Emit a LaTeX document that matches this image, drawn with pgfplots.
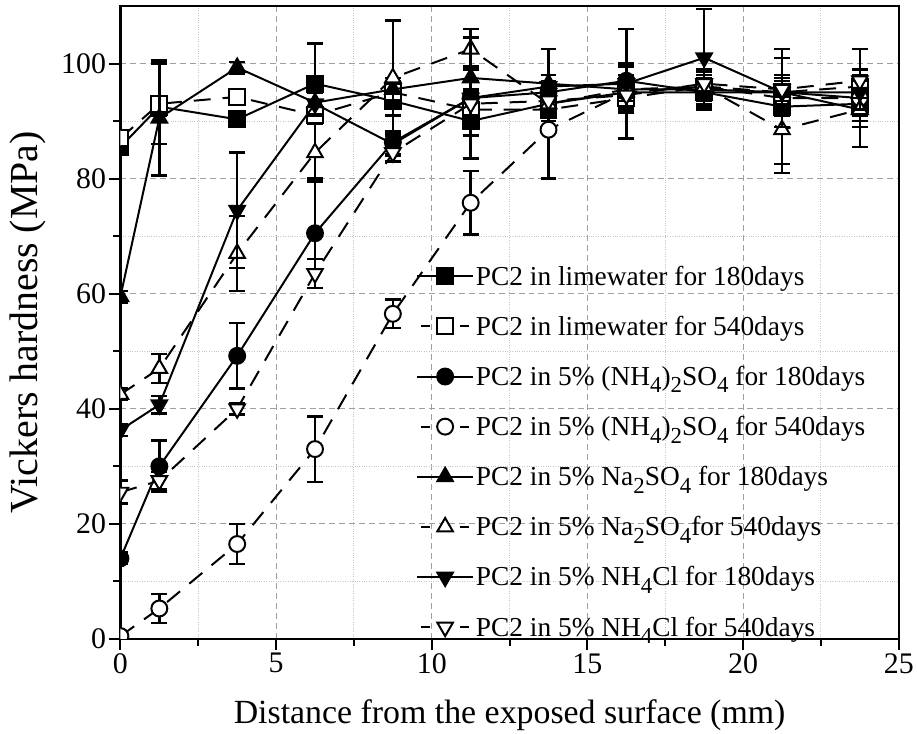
\documentclass[border=0pt]{standalone}
\usepackage{pgfplots}
\usepackage{pgfplotstable}
\pgfplotsset{compat=1.18}
\usepackage{fontspec}
\setmainfont{Liberation Serif}
\newcommand\sub[1]{\raisebox{-0.6ex}{\fontsize{23}{23}\selectfont #1}}

\pgfplotstableread{
x y e
0 85.5 1
1.25 92.5 1.5
3.75 90.3 1
6.25 96.5 7
8.75 93.5 2.5
11.25 90.0 2.5
13.75 93 2
16.25 95 2
18.75 95 3
21.25 92.5 10
23.75 93 2
}\Lc
\pgfplotstableread{
x y e
0 87 1
1.25 93 7
3.75 94.2 1
6.25 91 1.5
8.75 95 2
11.25 92 2
13.75 92 2
16.25 94 2.5
18.75 96 2
21.25 95 3
23.75 96 3
}\Ld
\pgfplotstableread{
x y e
0 14 1
1.25 30 4.5
3.75 49.2 5.7
6.25 70.5 9.5
8.75 86.3 2
11.25 94 3
13.75 95 3
16.25 97 3
18.75 95 3
21.25 95 3
23.75 94 8.5
}\Ac
\pgfplotstableread{
x y e
0 0.5 0
1.25 5.3 2.5
3.75 16.5 3.5
6.25 33 5.7
8.75 56.5 2.5
11.25 75.8 5.5
13.75 88.5 8.5
16.25 95 3
18.75 96 3
21.25 94 3
23.75 94 3
}\Ad
\pgfplotstableread{
x y e
0 59.5 1
1.25 90.5 10
3.75 99.3 1
6.25 93.2 2
8.75 95.5 2
11.25 97.5 2
13.75 96.5 6
16.25 95.5 2
18.75 95.5 2
21.25 95 2
23.75 92 3
}\Sc
\pgfplotstableread{
x y e
0 42.5 1
1.25 47 2.5
3.75 67 6.5
6.25 84.5 5
8.75 97.5 10
11.25 102.5 3.5
13.75 93 2
16.25 95.5 4
18.75 96 2
21.25 88.5 7.5
23.75 92 2
}\Sd
\pgfplotstableread{
x y e
0 36.3 1
1.25 40.7 1.5
3.75 74.5 10
6.25 93 2
8.75 86 2
11.25 94 10.5
13.75 96 2
16.25 96.5 9.5
18.75 101 8.5
21.25 95 6
23.75 95 3
}\Nc
\pgfplotstableread{
x y e
0 25.5 2
1.25 27.5 1.5
3.75 40 1
6.25 63.5 2.5
8.75 84.5 1.5
11.25 93 2
13.75 93.5 2
16.25 94.5 2
18.75 96.5 2
21.25 95.5 2
23.75 97 2
}\Nd

\begin{document}
\begin{tikzpicture}
\begin{axis}[
  name=ax,
  scale only axis, width=782pt, height=636pt,
  xmin=0, xmax=25, ymin=0, ymax=110,
  xtick={0,5,...,25}, ytick={0,20,...,100},
  minor x tick num=1, minor y tick num=1,
  tick align=outside,
  xtick pos=bottom, ytick pos=left,
  major tick length=11pt, minor tick length=7pt,
  axis line style={line width=2.5pt},
  every tick/.style={line width=2pt, black},
  grid=both,
  major grid style={gray!75, dash pattern=on 6pt off 4pt, line width=1pt},
  minor grid style={gray!45, dotted, line width=1pt},
  tick label style={font=\fontsize{30}{36}\selectfont},
  xlabel style={font=\fontsize{34}{40}\selectfont, at={(axis description cs:0.5,-0.12)}, anchor=center},
  ylabel style={font=\fontsize{40}{46}\selectfont, at={(axis description cs:-0.119,0.5)}, anchor=center},
  xlabel={Distance from the exposed surface (mm)},
  ylabel={Vickers hardness (MPa)},
  /pgf/number format/assume math mode=true,
  clip marker paths=true,
  legend style={draw=none, fill=none, at={(0.376,0.596)}, anchor=north west,
    font=\fontsize{27.5}{31}\selectfont, row sep=25.5pt, cells={anchor=west}},
  legend image code/.code={\draw[mark repeat=2,mark phase=2,#1] plot coordinates {(0pt,0pt) (28pt,0pt) (56pt,0pt)};},
  every axis plot/.append style={line width=2pt, black, mark size=8pt},
  error bars/y dir=both, error bars/y explicit,
  error bars/error bar style={solid, line width=2.5pt},
  error bars/error mark options={rotate=90, mark size=8pt, line width=2.5pt, solid},
]
\pgfplotsset{dsh/.style={dash pattern=on 17pt off 12pt, legend image post style={dash pattern=on 9pt off 30pt, dash phase=35pt}}}
\addplot[mark=square*, mark options={solid, fill=black}] table[x=x, y=y, y error=e] {\Lc};
\addlegendentry{PC2 in limewater for 180days}
\addplot[dsh, mark=square*, mark options={solid, fill=white}] table[x=x, y=y, y error=e] {\Ld};
\addlegendentry{PC2 in limewater for 540days}
\addplot[mark=*, mark options={solid, fill=black}] table[x=x, y=y, y error=e] {\Ac};
\addlegendentry{PC2 in 5\% (NH\sub{4})\sub{2}SO\sub{4} for 180days}
\addplot[dsh, mark=*, mark options={solid, fill=white}] table[x=x, y=y, y error=e] {\Ad};
\addlegendentry{PC2 in 5\% (NH\sub{4})\sub{2}SO\sub{4} for 540days}
\addplot[mark=triangle*, mark size=9pt, mark options={solid, fill=black}] table[x=x, y=y, y error=e] {\Sc};
\addlegendentry{PC2 in 5\% Na\sub{2}SO\sub{4} for 180days}
\addplot[dsh, mark=triangle*, mark size=9pt, mark options={solid, fill=white}] table[x=x, y=y, y error=e] {\Sd};
\addlegendentry{PC2 in 5\% Na\sub{2}SO\sub{4}for 540days}
\addplot[mark=triangle*, mark size=9pt, mark options={solid, fill=black, rotate=180}] table[x=x, y=y, y error=e] {\Nc};
\addlegendentry{PC2 in 5\% NH\sub{4}Cl for 180days}
\addplot[dsh, mark=triangle*, mark size=9pt, mark options={solid, fill=white, rotate=180}] table[x=x, y=y, y error=e] {\Nd};
\addlegendentry{PC2 in 5\% NH\sub{4}Cl for 540days}
\end{axis}
\path (ax.north west) ++(0,6pt);
\path (ax.south west) ++(-121pt,0);
\end{tikzpicture}
\end{document}
